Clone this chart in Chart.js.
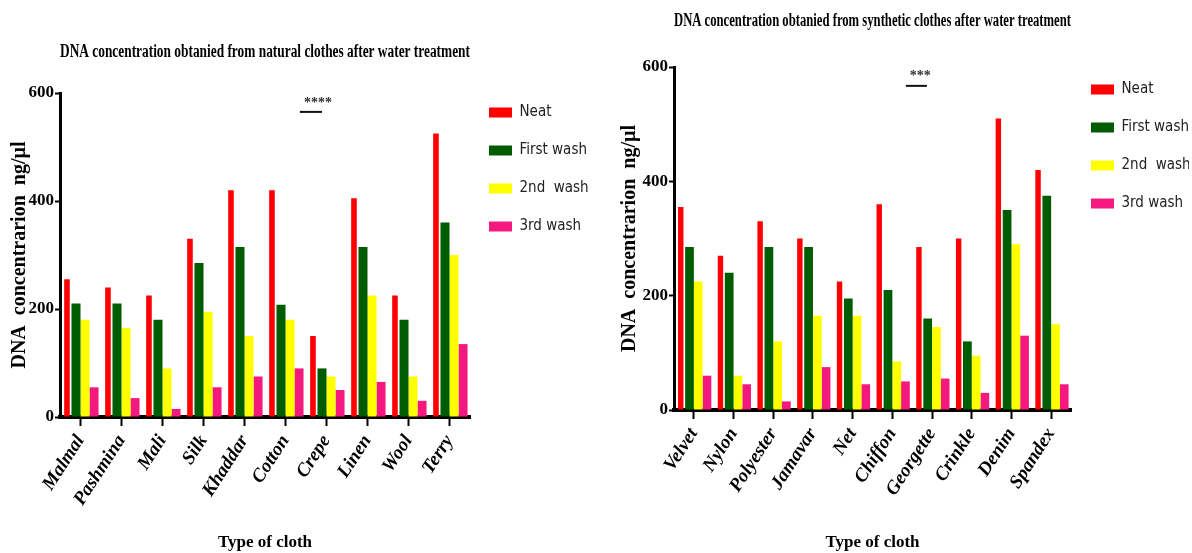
<!DOCTYPE html>
<html>
<head>
<meta charset="utf-8">
<title>DNA concentration after water treatment</title>
<script src="https://cdn.jsdelivr.net/npm/chart.js@4.4.1/dist/chart.umd.min.js"></script>
<style>
    html, body { margin: 0; padding: 0; background: #fff; }
    #page { position: relative; width: 1192px; height: 553px; overflow: hidden; }
    .panel { position: absolute; top: 0; height: 553px; }
    #naturalPanel { left: 0; width: 600px; }
    #syntheticPanel { left: 600px; width: 592px; }
</style>
</head>
<body>
<div id="page">
    <div class="panel" id="naturalPanel"><canvas id="naturalChart"></canvas></div>
    <div class="panel" id="syntheticPanel"><canvas id="syntheticChart"></canvas></div>
</div>
<script>
// Natural clothes (ng/µl)
const naturalCloths = ['Malmal', 'Pashmina', 'Mali', 'Silk', 'Khaddar', 'Cotton', 'Crepe', 'Linen', 'Wool', 'Terry'];
const naturalNeat = [255, 240, 225, 330, 420, 420, 150, 405, 225, 525];
const naturalFirst = [210, 210, 180, 285, 315, 208, 90, 315, 180, 360];
const naturalSecond = [180, 165, 90, 195, 150, 180, 75, 225, 75, 300];
const naturalThird = [55, 35, 15, 55, 75, 90, 50, 65, 30, 135];

// Synthetic clothes (ng/µl)
const syntheticCloths = ['Velvet', 'Nylon', 'Polyester', 'Jamavar', 'Net', 'Chiffon', 'Georgette', 'Crinkle', 'Denim', 'Spandex'];
const syntheticNeat = [355, 270, 330, 300, 225, 360, 285, 300, 510, 420];
const syntheticFirst = [285, 240, 285, 285, 195, 210, 160, 120, 350, 375];
const syntheticSecond = [225, 60, 120, 165, 165, 85, 145, 95, 290, 150];
const syntheticThird = [60, 45, 15, 75, 45, 50, 55, 30, 130, 45];

const yTicks = [0, 200, 400, 600];
const seriesNames = ['Neat', 'First wash', '2nd  wash', '3rd wash'];
const seriesColors = ['#ff0000', '#005c00', '#ffff00', '#f5187e'];

const serif = "'Liberation Serif', 'Times New Roman', serif";
const narrow = "'Liberation Sans Narrow', 'Arial Narrow', 'DejaVu Sans Condensed', sans-serif";

// Significance bar drawn above the groups
const significancePlugin = {
    id: 'significance',
    afterDatasetsDraw(chart, args, opts) {
        if (!opts || !opts.text) return;
        const ctx = chart.ctx;
        const x = chart.scales.x;
        const y = chart.scales.y;
        const x1 = x.getPixelForValue(opts.from);
        const x2 = x.getPixelForValue(opts.to);
        const ly = y.getPixelForValue(opts.lineValue);
        ctx.save();
        ctx.strokeStyle = '#111';
        ctx.lineWidth = 2;
        ctx.beginPath();
        ctx.moveTo(x1, ly);
        ctx.lineTo(x2, ly);
        ctx.stroke();
        ctx.fillStyle = '#333';
        ctx.font = 'bold 14px ' + serif;
        ctx.textAlign = 'center';
        ctx.textBaseline = 'middle';
        ctx.fillText(opts.text, x.getPixelForValue(opts.textAt), y.getPixelForValue(opts.textValue));
        ctx.restore();
    }
};

// Move the legend block a little, the layout engine glues it to the plot
const legendShift = {
    id: 'legendShift',
    afterLayout(chart, args, opts) {
        const lg = chart.legend;
        if (!lg) return;
        lg.left += opts.dx || 0;
        lg.right += opts.dx || 0;
        lg.top += opts.dy || 0;
        lg.bottom += opts.dy || 0;
    }
};

function buildDatasets(values) {
    return values.map((data, i) => ({
        label: seriesNames[i],
        data: data,
        backgroundColor: seriesColors[i],
        borderWidth: 0,
        barPercentage: i === 0 ? 0.62 : 1.0,
        categoryPercentage: 0.88
    }));
}

function makeChart(canvasId, cfg) {
    return new Chart(document.getElementById(canvasId), {
        type: 'bar',
        data: {
            labels: cfg.labels,
            datasets: buildDatasets(cfg.values)
        },
        options: {
            responsive: true,
            maintainAspectRatio: false,
            animation: false,
            layout: { padding: { left: 0, right: 0, top: 0, bottom: 0 } },
            plugins: {
                title: {
                    display: true,
                    text: cfg.title,
                    fullSize: false,
                    color: '#000',
                    font: { family: serif, size: 18, weight: 'bold' },
                    padding: { top: cfg.titleTop, bottom: cfg.titleBottom }
                },
                legend: {
                    position: 'right',
                    align: 'start',
                    fullSize: false,
                    maxWidth: cfg.legendWidth,
                    labels: {
                        boxWidth: 23,
                        boxHeight: 10,
                        padding: 23,
                        color: '#222',
                        font: { family: narrow, size: 15 }
                    }
                },
                tooltip: { enabled: false },
                significance: cfg.sig,
                legendShift: cfg.legendShift
            },
            scales: {
                x: {
                    afterFit: (scale) => { scale.height = cfg.xHeight; },
                    grid: {
                        offset: false,
                        drawOnChartArea: false,
                        drawTicks: true,
                        tickLength: 9,
                        tickWidth: 2,
                        tickColor: '#000'
                    },
                    border: { display: true, color: '#000', width: 4 },
                    ticks: {
                        color: '#000',
                        minRotation: 57,
                        maxRotation: 57,
                        padding: 5,
                        autoSkip: false,
                        font: { family: serif, size: 19, weight: 'bold', style: 'italic' }
                    },
                    title: {
                        display: true,
                        text: 'Type of cloth',
                        color: '#000',
                        font: { family: serif, size: 17, weight: 'bold' },
                        padding: { top: 0, bottom: 0 }
                    }
                },
                y: {
                    min: 0,
                    max: 600,
                    afterFit: (scale) => { scale.width = cfg.yWidth; },
                    afterBuildTicks: (scale) => { scale.ticks = yTicks.map(v => ({ value: v })); },
                    grid: {
                        drawOnChartArea: false,
                        drawTicks: true,
                        tickLength: 5,
                        tickWidth: 2,
                        tickColor: '#000'
                    },
                    border: { display: true, color: '#000', width: 3 },
                    ticks: {
                        color: '#000',
                        padding: 1,
                        font: { family: serif, size: 17, weight: 'bold' }
                    },
                    title: {
                        display: true,
                        text: 'DNA  concentrarion  ng/µl',
                        color: '#000',
                        font: { family: serif, size: 20, weight: 'bold' },
                        padding: { top: cfg.yTitlePad, bottom: 0 }
                    }
                }
            }
        },
        plugins: [significancePlugin, legendShift]
    });
}

makeChart('naturalChart', {
    labels: naturalCloths,
    values: [naturalNeat, naturalFirst, naturalSecond, naturalThird],
    title: 'DNA concentration obtanied from natural clothes after water treatment',
    titleTop: 42, titleBottom: 29.4,
    xHeight: 136, yWidth: 60, yTitlePad: 8, legendWidth: 130,
    sig: { text: '****', from: 5.35, to: 5.89, lineValue: 565, textAt: 5.79, textValue: 581 },
    legendShift: { dx: -4, dy: -11 }
});

makeChart('syntheticChart', {
    labels: syntheticCloths,
    values: [syntheticNeat, syntheticFirst, syntheticSecond, syntheticThird],
    title: 'DNA concentration obtanied from synthetic clothes after water treatment',
    titleTop: 11, titleBottom: 34.4,
    xHeight: 143, yWidth: 74, yTitlePad: 18, legendWidth: 121,
    sig: { text: '***', from: 5.34, to: 5.87, lineValue: 567, textAt: 5.7, textValue: 584 },
    legendShift: { dx: -3, dy: -8 }
});
</script>
</body>
</html>
